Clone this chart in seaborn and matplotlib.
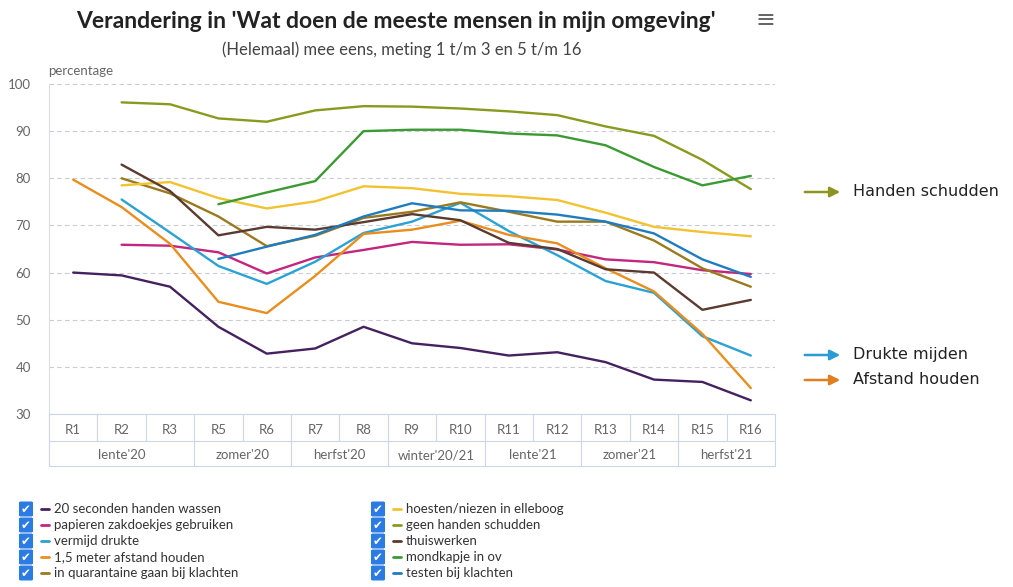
import numpy as np
import pandas as pd
import matplotlib
matplotlib.use("Agg")
import matplotlib.pyplot as plt
import seaborn as sns
from matplotlib.patches import FancyBboxPatch, FancyArrowPatch
from matplotlib.lines import Line2D
from matplotlib.transforms import blended_transform_factory

nan = np.nan

# rondes (meting 4 ontbreekt)
rounds = ["R1", "R2", "R3", "R5", "R6", "R7", "R8", "R9", "R10",
          "R11", "R12", "R13", "R14", "R15", "R16"]
season_labels = ["lente'20", "zomer'20", "herfst'20", "winter'20/21",
                 "lente'21", "zomer'21", "herfst'21"]
season_spans = [3, 2, 2, 2, 2, 2, 2]

# percentages (helemaal) mee eens
handen_wassen = [60.0, 59.4, 57.0, 48.5, 42.8, 43.9, 48.5, 45.0, 44.0, 42.4, 43.1, 41.0, 37.3, 36.8, 32.9]
zakdoekjes = [nan, 65.9, 65.7, 64.3, 59.8, 63.2, 64.8, 66.5, 65.9, 66.0, 64.9, 62.8, 62.2, 60.5, 59.7]
vermijd_drukte = [nan, 75.5, 68.5, 61.4, 57.6, 62.3, 68.4, 70.8, 74.8, 68.8, 63.7, 58.2, 55.7, 46.5, 42.4]
afstand = [79.7, 73.9, 66.1, 53.8, 51.4, 59.3, 68.2, 69.1, 71.0, 68.0, 66.2, 60.9, 56.0, 47.0, 35.5]
quarantaine = [nan, 80.0, 76.8, 71.9, 65.6, 67.8, 71.6, 72.9, 74.9, 72.9, 70.8, 70.8, 66.8, 60.9, 57.0]
hoesten = [nan, 78.5, 79.2, 75.8, 73.6, 75.1, 78.3, 77.9, 76.7, 76.2, 75.4, 72.7, 69.7, 68.6, 67.7]
handen_schudden = [nan, 96.1, 95.7, 92.7, 92.0, 94.4, 95.3, 95.2, 94.8, 94.2, 93.4, 91.0, 89.0, 83.9, 77.7]
thuiswerken = [nan, 82.9, 77.3, 67.9, 69.7, 69.1, 70.7, 72.4, 71.1, 66.3, 65.0, 60.7, 60.0, 52.1, 54.2]
mondkapje = [nan, nan, nan, 74.5, 77.0, 79.4, 90.0, 90.3, 90.3, 89.5, 89.1, 87.0, 82.4, 78.5, 80.5]
testen = [nan, nan, nan, 62.9, 65.5, 68.0, 71.9, 74.7, 73.2, 73.1, 72.3, 70.8, 68.3, 62.8, 59.1]

names = ["20 seconden handen wassen", "papieren zakdoekjes gebruiken", "vermijd drukte",
         "1,5 meter afstand houden", "in quarantaine gaan bij klachten",
         "hoesten/niezen in elleboog", "geen handen schudden", "thuiswerken",
         "mondkapje in ov", "testen bij klachten"]
series = [handen_wassen, zakdoekjes, vermijd_drukte, afstand, quarantaine,
          hoesten, handen_schudden, thuiswerken, mondkapje, testen]
colors = ["#45215f", "#c2267e", "#2ba2d4", "#e98e1e", "#9a7a1c",
          "#f1c232", "#899a1e", "#5b3a30", "#3c9a32", "#1f7cc0"]

rows = []
for name, vals in zip(names, series):
    for i, v in enumerate(vals):
        rows.append({"meting": i, "reeks": name, "percentage": v})
df = pd.DataFrame(rows).dropna()

sns.set_theme(style="white")
plt.rcParams["font.family"] = ["Lato", "DejaVu Sans"]

W, H = 1013, 587
fig = plt.figure(figsize=(W / 100, H / 100), dpi=100)


def fx(x):
    return x / W


def fy(y):
    return 1 - y / H


ax = fig.add_axes([fx(49), fy(414), fx(775) - fx(49), fy(84) - fy(414)])
sns.lineplot(data=df, x="meting", y="percentage", hue="reeks", hue_order=names,
             palette=colors, linewidth=1.7, legend=False, ax=ax)

ax.set_xlim(-0.5, len(rounds) - 0.5)
ax.set_ylim(30, 100)
ax.set_yticks(range(30, 101, 10))
ax.yaxis.grid(True, linestyle=(0, (4, 3)), color="#c8cbd3", linewidth=0.8)
ax.set_xticks([])
ax.set_xlabel("")
ax.set_ylabel("")
ax.tick_params(axis="y", length=0, pad=13, labelsize=9.5, labelcolor="#666666")
for s in ["top", "right"]:
    ax.spines[s].set_visible(False)
ax.spines["left"].set_color("#d8dce6")
ax.spines["bottom"].set_color("#ccd6eb")
ax.spines["left"].set_linewidth(0.8)
ax.spines["bottom"].set_linewidth(0.8)

# tabel met rondes en seizoenen onder de x-as
tr = blended_transform_factory(ax.transData, ax.transAxes)
y1 = -27 / 330
y2 = -52 / 330
lc = "#ccd6eb"
for y in [y1, y2]:
    ax.plot([-0.5, len(rounds) - 0.5], [y, y], color=lc, lw=0.8, transform=tr, clip_on=False)
for i in range(len(rounds) + 1):
    ax.plot([i - 0.5, i - 0.5], [0, y1], color=lc, lw=0.8, transform=tr, clip_on=False)
for i, r in enumerate(rounds):
    ax.text(i, -16 / 330, r, transform=tr, ha="center", va="center",
            fontsize=9.5, color="#666666")
start = 0
bounds = [0]
for lab, span in zip(season_labels, season_spans):
    ax.text(start + (span - 1) / 2, -41 / 330, lab, transform=tr, ha="center",
            va="center", fontsize=9.5, color="#666666")
    start += span
    bounds.append(start)
for b in bounds:
    ax.plot([b - 0.5, b - 0.5], [y1, y2], color=lc, lw=0.8, transform=tr, clip_on=False)

# titels
fig.text(fx(396), fy(22), "Verandering in 'Wat doen de meeste mensen in mijn omgeving'",
         ha="center", va="center", fontsize=16.5, fontweight="bold", color="#222222")
fig.text(fx(402), fy(50), "(Helemaal) mee eens, meting 1 t/m 3 en 5 t/m 16",
         ha="center", va="center", fontsize=12, color="#444444")
fig.text(fx(48), fy(71), "percentage", ha="left", va="center", fontsize=9.5, color="#666666")
fig.text(fx(765), fy(20), "\u2261", ha="center", va="center", fontsize=17,
         color="#666666", family="DejaVu Sans")

# pijlen rechts
arrows = [(192, "#8c9520", "Handen schudden"),
          (355, "#2b9bd3", "Drukte mijden"),
          (380, "#e07f1f", "Afstand houden")]
for y, c, lab in arrows:
    fig.add_artist(FancyArrowPatch(
        (fx(802), fy(y)), (fx(843), fy(y)), transform=fig.transFigure,
        arrowstyle="-|>,head_length=6,head_width=3", color=c, lw=1.8,
        mutation_scale=1))
    fig.text(fx(853), fy(y), lab, ha="left", va="center", fontsize=11.5,
             color="#222222", family="DejaVu Sans")

# legenda met vinkjes
for k, (name, c) in enumerate(zip(names, colors)):
    col, row = divmod(k, 5)
    x0 = 19 + col * 352
    yc = 509 + row * 16
    fig.add_artist(FancyBboxPatch((fx(x0), fy(yc + 7.5)), fx(14), 15 / H,
                                  boxstyle="round,pad=0,rounding_size=0.002",
                                  transform=fig.transFigure, facecolor="#2a7be2",
                                  edgecolor="none"))
    fig.text(fx(x0 + 7), fy(yc), "\u2714", ha="center", va="center", fontsize=8.5,
             color="white", family="DejaVu Sans")
    fig.add_artist(Line2D([fx(x0 + 22), fx(x0 + 30)], [fy(yc), fy(yc)],
                          color=c, lw=2, transform=fig.transFigure))
    fig.text(fx(x0 + 35), fy(yc), name, ha="left", va="center", fontsize=9.5,
             color="#333333")

fig.savefig("out.png", dpi=100)
